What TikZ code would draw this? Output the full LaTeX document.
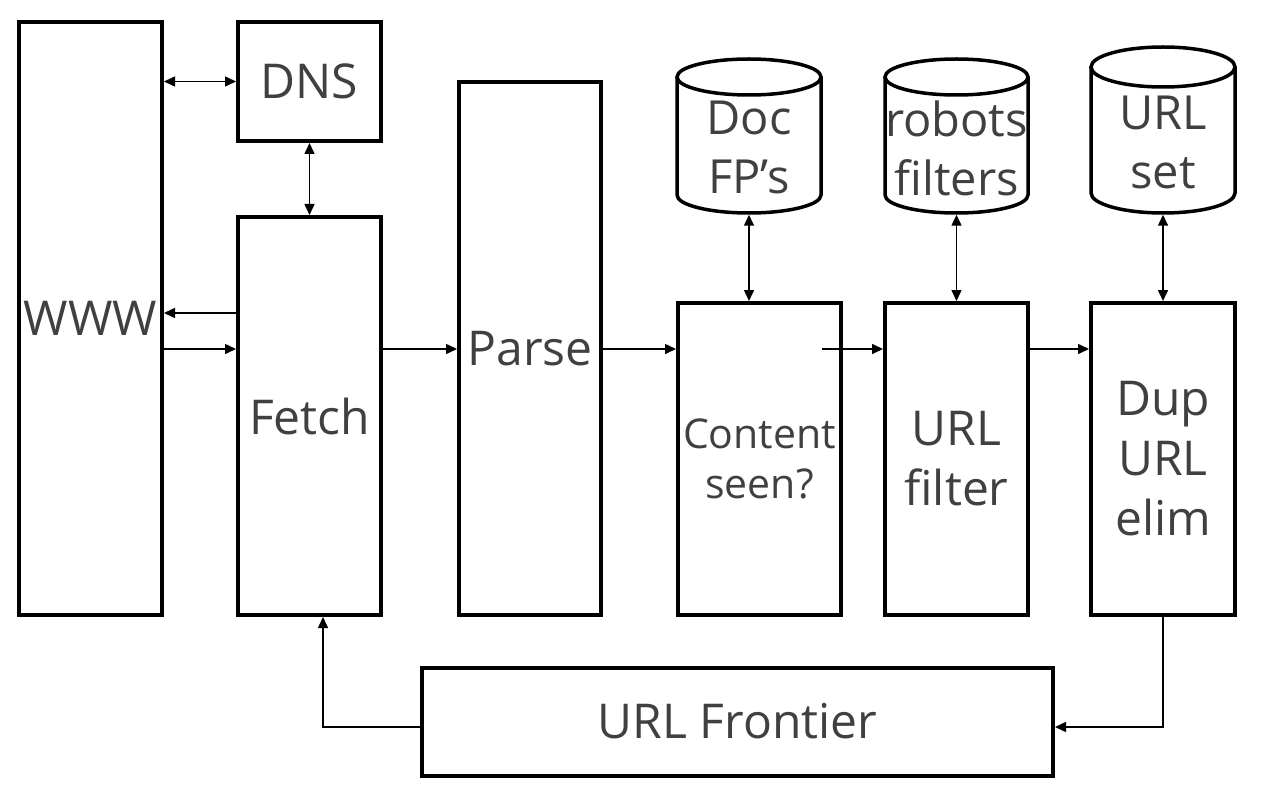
\documentclass[tikz,border=0pt]{standalone}
\usepackage{fontspec}
\setmainfont{Open Sans}
\usetikzlibrary{arrows.meta}
\definecolor{txt}{HTML}{404040}
\tikzset{
  box/.style={draw, line width=4pt, inner sep=0pt, align=center, text=txt,
    font=\fontsize{48}{60}\selectfont},
  dbline/.style={draw, line width=3.5pt},
  dbtext/.style={inner sep=0pt, align=center, text=txt, font=\fontsize{47}{59}\selectfont},
  dbnode/.style={inner sep=0pt, outer sep=1.75pt, minimum width=144pt},
  arr/.style={line width=1.5pt, -{Triangle[length=11pt,width=10pt]}},
  darr/.style={line width=1.5pt, {Triangle[length=11pt,width=10pt]}-{Triangle[length=11pt,width=10pt]}},
}
\begin{document}
\begin{tikzpicture}[x=1pt,y=-1pt]
\useasboundingbox (0,0) rectangle (1268,786);

% boxes
\node[box, minimum width=143pt, minimum height=593pt] (www) at (90.5,318.5) {WWW};
\node[box, minimum width=143pt, minimum height=119pt] (dns) at (309.5,81.5) {DNS};
\node[box, minimum width=143pt, minimum height=398pt] (fetch) at (309.5,416) {Fetch};
\node[box, minimum width=142pt, minimum height=533pt] (parse) at (530,348.5) {Parse};
\node[box, minimum width=163pt, minimum height=312pt, font=\fontsize{41}{50}\selectfont] (cs) at (759.5,459) {Content\\seen?};
\node[box, minimum width=143pt, minimum height=312pt] (uf) at (956.5,459) {URL\\filter};
\node[box, minimum width=144pt, minimum height=312pt] (dup) at (1163,459) {Dup\\URL\\elim};
\node[box, minimum width=631pt, minimum height=108pt] (fr) at (737.5,721.5) {URL Frontier};

% cylinders
\draw[dbline] (749,77) ellipse [x radius=72pt, y radius=18pt];
\draw[dbline] (677,77) -- (677,195) arc[start angle=180, end angle=360, x radius=72pt, y radius=18pt] -- (821,77);
\draw[dbline] (956.5,77) ellipse [x radius=71.5pt, y radius=18pt];
\draw[dbline] (885,77) -- (885,195) arc[start angle=180, end angle=360, x radius=71.5pt, y radius=18pt] -- (1028,77);
\draw[dbline] (1163,67) ellipse [x radius=72pt, y radius=20pt];
\draw[dbline] (1091,67) -- (1091,193) arc[start angle=180, end angle=360, x radius=72pt, y radius=20pt] -- (1235,67);

\node[dbnode, minimum height=154pt] (docdb) at (749,136) {};
\node[dbnode, minimum height=154pt] (robdb) at (956.5,136) {};
\node[dbnode, minimum height=166pt] (setdb) at (1163,130) {};
\node[dbtext] (doctxt) at (749,147) {Doc\\FP’s};
\node[dbtext] (robtxt) at (956.5,148) {robots\\filters};
\node[dbtext] (settxt) at (1163,142) {URL\\set};

% connectors
\coordinate (f1) at ([yshift=103pt]fetch.west);
\coordinate (f2) at ([yshift=67pt]fetch.west);
\coordinate (c1) at (822,349);
\draw[darr] (www.east |- dns.west) -- (dns.west);
\draw[darr] (dns.south) -- (fetch.north);
\draw[arr] (f1) -- (f1 -| www.east);
\draw[arr] (f2 -| www.east) -- (f2);
\draw[arr] (f2 -| fetch.east) -- (f2 -| parse.west);
\draw[arr] (f2 -| parse.east) -- (f2 -| cs.west);
\draw[arr] (c1) -- (c1 -| uf.west);
\draw[arr] (f2 -| uf.east) -- (f2 -| dup.west);
\draw[darr] (docdb.south) -- (docdb.south |- cs.north);
\draw[darr] (robdb.south) -- (robdb.south |- uf.north);
\draw[darr] (setdb.south) -- (setdb.south |- dup.north);
\draw[arr] (dup.south) |- ([yshift=-5.5pt]fr.east);
\draw[arr] ([yshift=-5.5pt]fr.west) -| ([xshift=13.5pt]fetch.south);
\end{tikzpicture}
\end{document}
